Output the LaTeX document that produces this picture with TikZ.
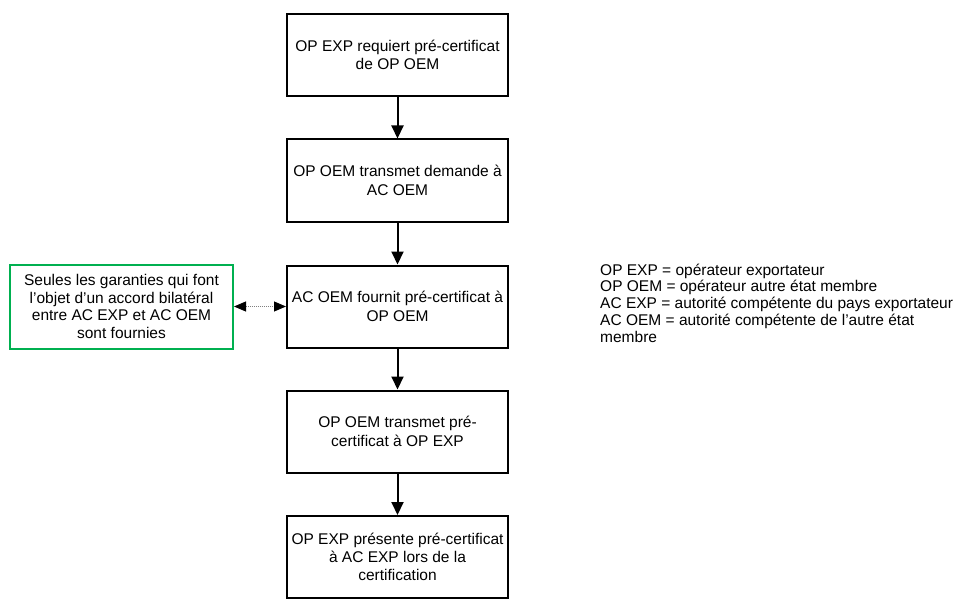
\documentclass[tikz,border=0pt]{standalone}
\usepackage{fontspec}
\setmainfont{Liberation Sans}
\usetikzlibrary{arrows.meta}
\definecolor{notegreen}{RGB}{0,176,80}

\begin{document}
\begin{tikzpicture}
[every node/.style={inner sep=0pt},
 stepbox/.style={rectangle, minimum width=221pt, minimum height=82pt, line width=2pt, draw=black, align=center, font=\fontsize{15.5pt}{18.3pt}\selectfont},
 notebox/.style={stepbox, minimum width=223pt, minimum height=84pt, draw=notegreen, font=\fontsize{15.5pt}{17.4pt}\selectfont},
 flow/.style={line width=2pt, -{Triangle[width=12pt, length=13pt]}, color=black},
 link/.style={line width=1pt, dash pattern=on 1pt off 1pt, color=gray, {Triangle[width=10pt, length=12pt, color=black]}-{Triangle[width=10pt, length=12pt, color=black]}}]
\useasboundingbox (0pt, 0pt) rectangle (957pt, -604pt);
\node (1) [stepbox] at (397.5pt, -55.0pt) {OP EXP requiert pré-certificat\\de OP OEM};
\node (2) [stepbox] at (397.5pt, -180.5pt) {OP OEM transmet demande à\\AC OEM};
\node (3) [stepbox] at (397.5pt, -306.5pt) {AC OEM fournit pré-certificat à\\OP OEM};
\node (4) [stepbox] at (397.5pt, -431.5pt) {OP OEM transmet pré-\\certificat à OP EXP};
\node (5) [stepbox] at (397.5pt, -557.0pt) {OP EXP présente pré-certificat\\à AC EXP lors de la\\certification};
\node (g) [notebox] at (121.5pt, -306.5pt) {Seules les garanties qui font\\l’objet d’un accord bilatéral\\entre AC EXP et AC OEM\\sont fournies};
\node (legend) [anchor=north west, align=left, font=\fontsize{15.5pt}{16.8pt}\selectfont] at (600.0pt, -263.5pt) {OP EXP = opérateur exportateur\\OP OEM = opérateur autre état membre\\AC EXP = autorité compétente du pays exportateur\\AC OEM = autorité compétente de l’autre état\\membre};
\draw [flow] (1) -- (2);
\draw [flow] (2) -- (3);
\draw [flow] (3) -- (4);
\draw [flow] (4) -- (5);
\draw [link] (g) -- (3);
\end{tikzpicture}
\end{document}
